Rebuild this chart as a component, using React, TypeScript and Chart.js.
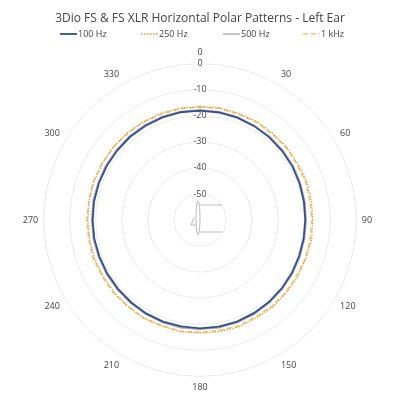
import React, { useEffect, useRef } from "react";
import { Chart, registerables } from "chart.js";

Chart.register(...registerables);

const TITLE = "3Dio FS & FS XLR Horizontal Polar Patterns - Left Ear";
const ANGLES = [0, 10, 20, 30, 40, 50, 60, 70, 80, 90, 100, 110, 120, 130, 140, 150, 160, 170, 180, 190, 200, 210, 220, 230, 240, 250, 260, 270, 280, 290, 300, 310, 320, 330, 340, 350];
const SERIES_NAMES = ["100 Hz", "250 Hz", "500 Hz", "1 kHz"];
const HZ100 = [-18.0, -18.1, -18.2, -18.4, -18.6, -18.8, -19.0, -19.3, -19.5, -19.6, -19.6, -19.5, -19.3, -19.1, -18.9, -18.7, -18.5, -18.4, -18.4, -18.5, -18.5, -18.6, -18.8, -18.9, -18.9, -18.9, -18.8, -18.8, -18.7, -18.7, -18.6, -18.5, -18.3, -18.2, -18.1, -18.0];
const HZ250 = [-16.4, -16.3, -16.5, -16.4, -16.6, -16.5, -16.7, -16.4, -16.6, -16.7, -16.5, -16.8, -16.6, -16.7, -16.5, -16.6, -16.4, -16.5, -16.6, -16.4, -16.7, -16.6, -16.8, -16.9, -17.0, -16.9, -17.0, -16.9, -16.8, -16.7, -16.6, -16.5, -16.4, -16.5, -16.3, -16.4];
const HZ500 = [-17.7, -17.8, -17.9, -18.1, -18.2, -18.4, -18.6, -18.9, -19.1, -19.2, -19.2, -19.1, -18.9, -18.7, -18.5, -18.3, -18.1, -18.0, -18.0, -18.0, -18.1, -18.2, -18.4, -18.5, -18.5, -18.5, -18.4, -18.4, -18.3, -18.3, -18.2, -18.1, -17.9, -17.8, -17.7, -17.7];
const KHZ1 = [-16.7, -16.5, -16.8, -16.6, -17.0, -16.8, -17.1, -16.9, -17.2, -17.0, -17.1, -16.9, -17.2, -17.0, -16.9, -17.1, -16.8, -17.0, -16.9, -16.7, -16.9, -16.6, -16.8, -16.5, -16.7, -16.4, -16.6, -16.5, -16.7, -16.4, -16.6, -16.5, -16.7, -16.6, -16.8, -16.6];
const R_MIN = -60;
const R_MAX = 0;
const R_STEP = 10;

const FONT = "'Open Sans', 'Noto Sans', sans-serif";

const legendPlugin = {
  id: "customLegend",
  afterDraw(chart: any) {
    const ctx = chart.ctx;
    const starts = [52, 133, 215, 295];
    const y = 26;
    ctx.save();
    chart.data.datasets.forEach((ds: any, i: number) => {
      const x = starts[i];
      ctx.beginPath();
      ctx.setLineDash(ds.borderDash || []);
      ctx.strokeStyle = ds.borderColor;
      ctx.lineWidth = ds.borderWidth;
      ctx.moveTo(x, y);
      ctx.lineTo(x + 17, y);
      ctx.stroke();
      ctx.setLineDash([]);
      ctx.fillStyle = "#444";
      ctx.font = `9px ${FONT}`;
      ctx.textBaseline = "middle";
      ctx.textAlign = "left";
      ctx.fillText(ds.label, x + 18, y);
    });
    ctx.restore();
  },
};

const iconPlugin = {
  id: "centerIcon",
  afterDatasetsDraw(chart: any) {
    const s = chart.scales.r;
    const cx = s.xCenter;
    const cy = s.yCenter;
    const ctx = chart.ctx;
    ctx.save();
    ctx.strokeStyle = "#aaa";
    ctx.lineWidth = 0.8;
    ctx.beginPath();
    ctx.ellipse(cx - 2, cy - 2, 2, 17, 0, 0, Math.PI * 2);
    ctx.stroke();
    ctx.beginPath();
    ctx.moveTo(cx, cy - 15);
    ctx.lineTo(cx + 22, cy - 15);
    ctx.moveTo(cx, cy + 12);
    ctx.lineTo(cx + 22, cy + 12);
    ctx.moveTo(cx - 6, cy - 2);
    ctx.lineTo(cx - 9, cy + 5);
    ctx.lineTo(cx - 4, cy + 5);
    ctx.stroke();
    ctx.restore();
  },
};

export default function App() {
  const ref = useRef<HTMLCanvasElement | null>(null);
  useEffect(() => {
    if (!ref.current) return;
    const chart = new Chart(ref.current, {
      type: "radar",
      data: {
        labels: ANGLES.map(String),
        datasets: [
          { label: SERIES_NAMES[0], data: HZ100, borderColor: "#34508f", borderWidth: 1.8, fill: false, pointRadius: 0 },
          { label: SERIES_NAMES[1], data: HZ250, borderColor: "#e59a3c", borderWidth: 1.3, borderDash: [1.5, 1.5], fill: false, pointRadius: 0 },
          { label: SERIES_NAMES[2], data: HZ500, borderColor: "#a5a5a5", borderWidth: 1.3, fill: false, pointRadius: 0 },
          { label: SERIES_NAMES[3], data: KHZ1, borderColor: "#f3c46e", borderWidth: 1.5, borderDash: [5, 3], fill: false, pointRadius: 0 },
        ] as any,
      },
      options: {
        animation: false,
        responsive: true,
        maintainAspectRatio: false,
        layout: { padding: { left: 2, right: 2, top: 0, bottom: 0 } },
        elements: { line: { tension: 0 } },
        plugins: {
          legend: { display: false },
          tooltip: { enabled: false },
          title: {
            display: true,
            text: TITLE,
            color: "#444",
            font: { family: FONT, size: 12, weight: "normal" },
            padding: { top: 3, bottom: 22 },
          },
        },
        scales: {
          r: {
            min: R_MIN,
            max: R_MAX,
            ticks: {
              stepSize: R_STEP,
              color: "#444",
              font: { family: FONT, size: 9 },
              backdropColor: "#fff",
              backdropPadding: 1,
              callback: (v: any) => (v === R_MIN ? "" : String(v)),
            },
            grid: { color: "#ebebeb", lineWidth: 1, circular: true },
            angleLines: { display: false },
            pointLabels: {
              color: "#444",
              font: { family: FONT, size: 9 },
              padding: 0,
              callback: (l: any) => (Number(l) % 30 === 0 ? l : ""),
            },
          },
        },
      },
      plugins: [legendPlugin, iconPlugin],
    });
    return () => chart.destroy();
  }, []);
  return (
    <div style={{ width: 384, height: 386, position: "relative" }}>
      <canvas ref={ref} />
    </div>
  );
}
